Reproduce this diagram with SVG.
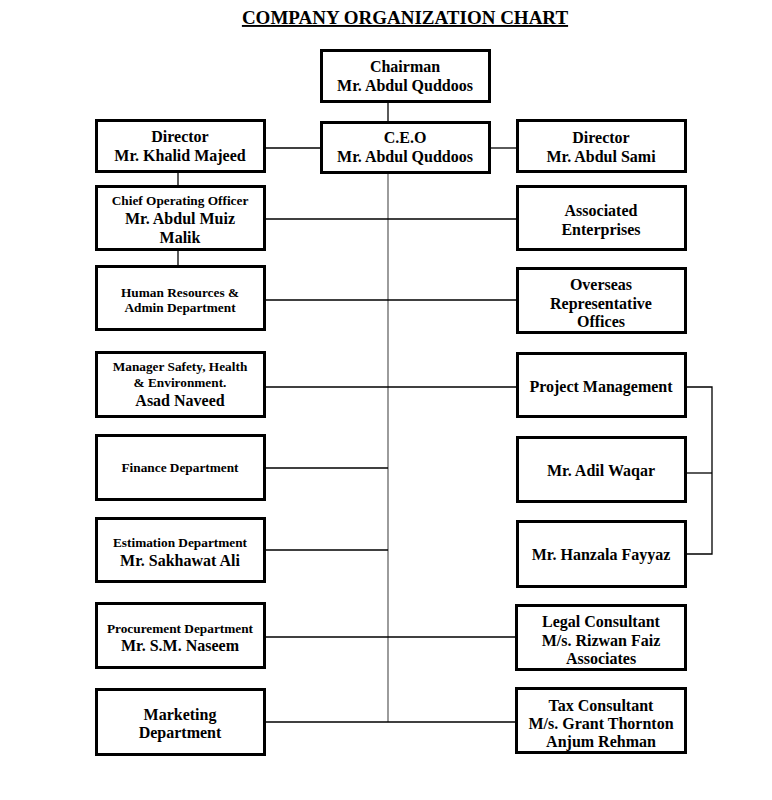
<svg xmlns="http://www.w3.org/2000/svg" width="772" height="800" viewBox="0 0 772 800">
<style>
.box{fill:#fff;stroke:#000;stroke-width:3}
.frame{fill:none;stroke:#000;stroke-width:3}
.t{font-family:"Liberation Serif","Times New Roman",serif;font-weight:bold;text-anchor:middle;fill:#000}
.l{font-size:16px}
.s{font-size:13.3px}
.ln{stroke:#000;stroke-width:1.3;fill:none}
.trunk{stroke:#666;stroke-width:1.3;fill:none}
</style>
<rect width="772" height="800" fill="#fff"/>
<text class="t" x="405" y="24" font-size="19" text-decoration="underline">COMPANY ORGANIZATION CHART</text>
<g id="connectors">
<line class="ln" x1="388" y1="102" x2="388" y2="122"/>
<line class="ln" x1="265" y1="148" x2="322" y2="148"/>
<line class="ln" x1="490" y1="148" x2="516" y2="148"/>
<line class="ln" x1="178" y1="172" x2="178" y2="186"/>
<line class="ln" x1="178" y1="250" x2="178" y2="266"/>
<line class="trunk" x1="388" y1="173" x2="388" y2="722"/>
<line class="ln" x1="265" y1="219" x2="516" y2="219"/>
<line class="ln" x1="265" y1="300" x2="516" y2="300"/>
<line class="ln" x1="265" y1="387" x2="516" y2="387"/>
<line class="ln" x1="265" y1="468" x2="388" y2="468"/>
<line class="ln" x1="265" y1="550" x2="388" y2="550"/>
<line class="ln" x1="265" y1="637" x2="516" y2="637"/>
<line class="ln" x1="265" y1="722" x2="516" y2="722"/>
<polyline class="ln" points="686,387 712,387 712,554 686,554"/>
<line class="ln" x1="686" y1="473" x2="712" y2="473"/>
</g>
<g id="chairman">
<rect class="box" x="321.5" y="50.5" width="168" height="51"/>
<text class="t l" x="405" y="72">Chairman</text>
<text class="t l" x="405" y="91">Mr. Abdul Quddoos</text>
</g>
<g id="ceo">
<rect class="box" x="321.5" y="122.5" width="168" height="50"/>
<text class="t l" x="405" y="143">C.E.O</text>
<text class="t l" x="405" y="162">Mr. Abdul Quddoos</text>
</g>
<g id="director-khalid">
<rect class="box" x="96.5" y="120.5" width="168" height="51"/>
<text class="t l" x="180" y="142">Director</text>
<text class="t l" x="180" y="161">Mr. Khalid Majeed</text>
</g>
<g id="coo">
<rect class="box" x="96.5" y="186.5" width="168" height="63"/>
<text class="t s" x="180" y="205">Chief Operating Officer</text>
<text class="t l" x="180" y="224">Mr. Abdul Muiz</text>
<text class="t l" x="180" y="243">Malik</text>
</g>
<g id="hr">
<rect class="box" x="96.5" y="266.5" width="168" height="63"/>
<text class="t s" x="180" y="297">Human Resources &amp;</text>
<text class="t s" x="180" y="312">Admin Department</text>
</g>
<g id="safety">
<rect class="box" x="96.5" y="352.5" width="168" height="64"/>
<text class="t s" x="180" y="371">Manager Safety, Health</text>
<text class="t s" x="180" y="387">&amp; Environment.</text>
<text class="t l" x="180" y="406">Asad Naveed</text>
</g>
<g id="finance">
<rect class="box" x="96.5" y="435.5" width="168" height="64"/>
<text class="t s" x="180" y="472">Finance Department</text>
</g>
<g id="estimation">
<rect class="box" x="96.5" y="518.5" width="168" height="63"/>
<text class="t s" x="180" y="547">Estimation Department</text>
<text class="t l" x="180" y="566">Mr. Sakhawat Ali</text>
</g>
<g id="procurement">
<rect class="box" x="96.5" y="603.5" width="168" height="64"/>
<text class="t s" x="180" y="633">Procurement Department</text>
<text class="t l" x="180" y="651">Mr. S.M. Naseem</text>
</g>
<g id="marketing">
<rect class="box" x="96.5" y="689.5" width="168" height="65"/>
<text class="t l" x="180" y="720">Marketing</text>
<text class="t l" x="180" y="738">Department</text>
</g>
<g id="director-sami">
<rect class="box" x="517.5" y="120.5" width="168" height="51"/>
<text class="t l" x="601" y="143">Director</text>
<text class="t l" x="601" y="162">Mr. Abdul Sami</text>
</g>
<g id="associated">
<rect class="box" x="517.5" y="186.5" width="168" height="63"/>
<text class="t l" x="601" y="216">Associated</text>
<text class="t l" x="601" y="235">Enterprises</text>
</g>
<g id="overseas">
<rect class="box" x="517.5" y="268.5" width="168" height="64"/>
<text class="t l" x="601" y="290">Overseas</text>
<text class="t l" x="601" y="309">Representative</text>
<text class="t l" x="601" y="327">Offices</text>
</g>
<g id="project-management">
<rect class="box" x="517.5" y="353.5" width="168" height="63"/>
<text class="t l" x="601" y="392">Project Management</text>
</g>
<g id="adil">
<rect class="box" x="517.5" y="437.5" width="168" height="64"/>
<text class="t l" x="601" y="476">Mr. Adil Waqar</text>
</g>
<g id="hanzala">
<rect class="box" x="517.5" y="521.5" width="168" height="65"/>
<text class="t l" x="601" y="560">Mr. Hanzala Fayyaz</text>
</g>
<g id="legal">
<rect class="box" x="516.5" y="605.5" width="169" height="64"/>
<text class="t l" x="601" y="627">Legal Consultant</text>
<text class="t l" x="601" y="646">M/s. Rizwan Faiz</text>
<text class="t l" x="601" y="664">Associates</text>
<rect class="frame" x="516.5" y="605.5" width="169" height="64"/>
</g>
<g id="tax">
<rect class="box" x="516.5" y="688.5" width="169" height="64"/>
<text class="t l" x="601" y="711">Tax Consultant</text>
<text class="t l" x="601" y="729">M/s. Grant Thornton</text>
<text class="t l" x="601" y="747">Anjum Rehman</text>
<rect class="frame" x="516.5" y="688.5" width="169" height="64"/>
</g>
</svg>
